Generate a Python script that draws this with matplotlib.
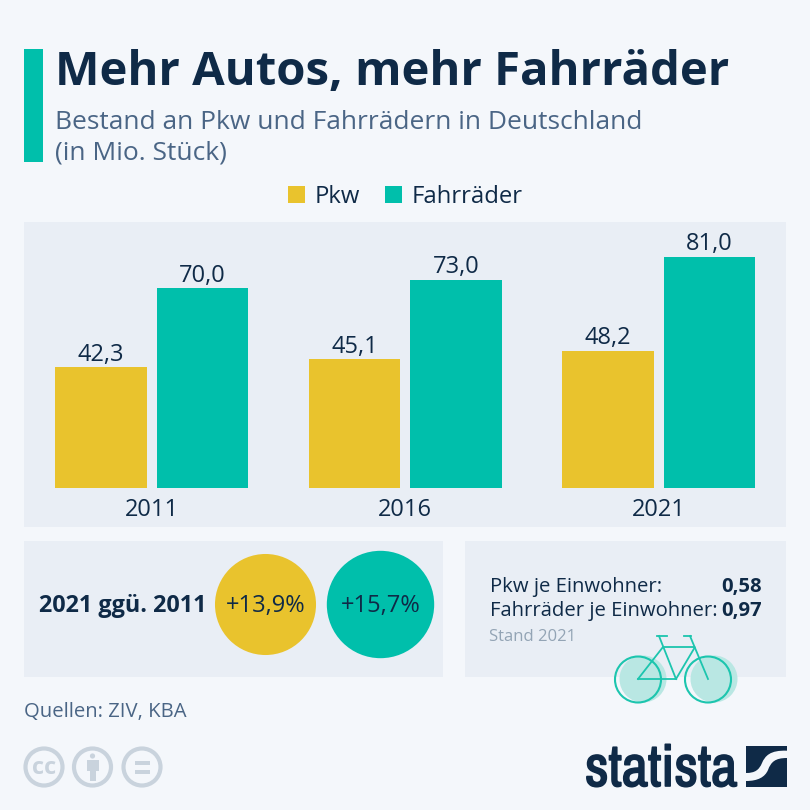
import numpy as np
import matplotlib
matplotlib.use("Agg")
import matplotlib.pyplot as plt
import matplotlib.patheffects as pe
from matplotlib import font_manager
from matplotlib.patches import Rectangle, Circle, PathPatch
from matplotlib.path import Path

# ── Data ──────────────────────────────────────────────────────────────────────

years = ["2011", "2016", "2021"]
pkw = [42.3, 45.1, 48.2]
fahrraeder = [70.0, 73.0, 81.0]
change_labels = ["+13,9%", "+15,7%"]
change_values = [13.9, 15.7]

# ── Style ─────────────────────────────────────────────────────────────────────

BG = "#f4f7fb"
PANEL = "#e9eef5"
TEAL = "#00bfab"
YELLOW = "#e9c32d"
DARK = "#0f2a47"
SUB = "#4a6585"
GREY = "#c9d3dd"
FONT = "Open Sans"

plt.rcParams["font.family"] = FONT

# the logo wants a narrow face, take whatever condensed one is there
narrow = sorted({f.name for f in font_manager.fontManager.ttflist
                 if "condensed" in f.name.lower() or "narrow" in f.name.lower()})
LOGO_FONT = narrow[0] if narrow else "Liberation Sans"

fig = plt.figure(figsize=(8.1, 8.1), dpi=100, facecolor=BG)

# full figure overlay in pixel coordinates
ov = fig.add_axes([0, 0, 1, 1], zorder=0)
ov.set_xlim(0, 810)
ov.set_ylim(810, 0)
ov.axis("off")


def box(x0, y0, x1, y1, color):
    ov.add_patch(Rectangle((x0, y0), x1 - x0, y1 - y0, fc=color, ec="none"))


def label(x, y, s, size, color=DARK, weight="normal", ha="left", **kw):
    ov.text(x, y, s, fontsize=size, color=color, fontweight=weight, ha=ha, va="baseline", **kw)


# ── Header ────────────────────────────────────────────────────────────────────

box(24, 49, 43, 162, TEAL)
label(55, 85, "Mehr Autos, mehr Fahrräder", 34.0, weight="bold")
label(55, 129, "Bestand an Pkw und Fahrrädern in Deutschland", 19.0, color=SUB)
label(55, 160, "(in Mio. Stück)", 19.0, color=SUB)

# legend
box(288, 186, 305, 203, YELLOW)
label(315, 203, "Pkw", 17.2)
box(385, 186, 402, 203, TEAL)
label(412, 203, "Fahrräder", 17.2)

# ── Bars ──────────────────────────────────────────────────────────────────────

box(24, 222, 786, 527, PANEL)

ax = fig.add_axes([24 / 810, (810 - 488) / 810, 762 / 810, 266 / 810], zorder=1)
ax.patch.set_alpha(0)
x = np.arange(len(years))
bar_w = 91.5 / 253.5
offset = 50.75 / 253.5
b1 = ax.bar(x - offset, pkw, bar_w, color=YELLOW)
b2 = ax.bar(x + offset, fahrraeder, bar_w, color=TEAL)
for bars, vals in ((b1, pkw), (b2, fahrraeder)):
    for bar, v in zip(bars, vals):
        ax.text(bar.get_x() + bar.get_width() / 2, v + 2.4, f"{v:.1f}".replace(".", ","),
                ha="center", va="baseline", fontsize=17, color=DARK)
ax.set_xlim(-0.504, 2.502)
ax.set_ylim(0, 93.27)
ax.set_xticks(x)
ax.set_xticklabels(years, fontsize=17, color=DARK)
ax.tick_params(axis="x", length=0, pad=7)
ax.set_yticks([])
for s in ax.spines.values():
    s.set_visible(False)

# ── Bottom left panel ─────────────────────────────────────────────────────────

box(24, 541, 443, 677, PANEL)
label(39, 612, "2021 ggü. 2011", 16.8, weight="bold")
for cx, val, txt, col in zip([265.5, 380.5], change_values, change_labels, [YELLOW, TEAL]):
    ov.add_patch(Circle((cx, 604.5), 13.55 * np.sqrt(val), fc=col, ec="none"))
    ov.text(cx, 612, txt, fontsize=17, color=DARK, ha="center", va="baseline")

# ── Bottom right panel ────────────────────────────────────────────────────────

box(465, 541, 786, 677, PANEL)
label(490, 592, "Pkw je Einwohner:", 14.6)
label(762, 592, "0,58", 14.6, weight="bold", ha="right")
label(490, 616, "Fahrräder je Einwohner:", 14.6)
label(762, 616, "0,97", 14.6, weight="bold", ha="right")
label(489, 641, "Stand 2021", 12, color="#93a4b5")

# bicycle icon
BIKE = "#1cc5ae"
for cx in (643, 714):
    ov.add_patch(Circle((cx, 679), 23.5, fc="#b9e7e3", ec="none"))
for cx in (638, 708):
    ov.add_patch(Circle((cx, 679.5), 23, fc="none", ec=BIKE, lw=1.5))
for seg in [
    [(638, 679), (676, 679), (659, 636)],
    [(638, 679), (663, 647), (695, 647), (676, 679)],
    [(690, 636), (708, 679)],
    [(657, 635.5), (667, 635.5)],
    [(684, 635.5), (691, 635.5)],
]:
    xs, ys = zip(*seg)
    ov.plot(xs, ys, color=BIKE, lw=1.3, solid_joinstyle="miter")

# ── Footer ────────────────────────────────────────────────────────────────────

label(24, 717, "Quellen: ZIV, KBA", 14.6, color=SUB)

# CC icons
for cx in (44, 92.5, 142):
    ov.add_patch(Circle((cx, 767), 18.5, fc="none", ec=GREY, lw=3))
ov.text(44, 774, "cc", fontsize=17, color=GREY, weight="bold", ha="center", va="baseline")
ov.add_patch(Circle((92.5, 756), 2.6, fc=GREY, ec="none"))
box(86.5, 760, 98.5, 771, GREY)
box(89.5, 771, 95.5, 781, GREY)
box(134.5, 761, 149.5, 765, GREY)
box(134.5, 769.5, 149.5, 773.5, GREY)

# statista logo, stroke makes the condensed face as heavy as the original
logo = ov.text(585, 786, "statista", fontsize=41.5, color=DARK, weight="bold", ha="left",
               va="baseline", family=LOGO_FONT)
logo.set_path_effects([pe.withStroke(linewidth=1.2, foreground=DARK)])
box(746, 746, 787, 787, DARK)
swoosh = Path(
    [(787, 750.7), (770, 750), (765, 756), (762, 763), (759, 770), (755, 773), (746, 773),
     (746, 781), (758, 781), (765, 777), (768, 770), (771, 762), (775, 758), (787, 758),
     (787, 750.7)],
    [Path.MOVETO] + [Path.CURVE4] * 6 + [Path.LINETO] + [Path.CURVE4] * 6 + [Path.CLOSEPOLY],
)
ov.add_patch(PathPatch(swoosh, fc=BG, ec="none"))

fig.savefig("out.png", dpi=100, facecolor=BG)
